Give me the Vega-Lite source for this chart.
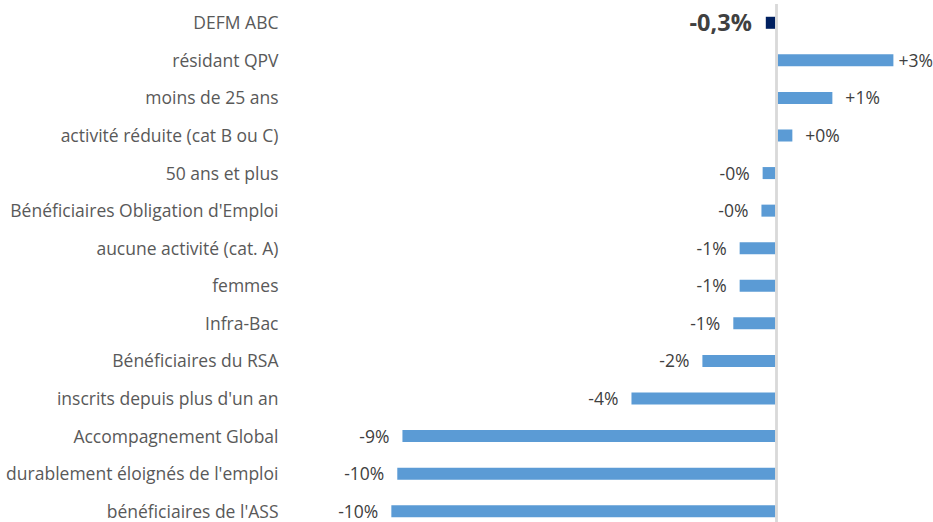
{
  "$schema": "https://vega.github.io/schema/vega-lite/v6.json",
  "autosize": {"type": "none"},
  "padding": {"left": 301, "top": 4, "right": 0, "bottom": 0},
  "width": 634,
  "height": 526,
  "background": "white",
  "config": {
    "view": {"stroke": null},
    "font": "Open Sans",
    "text": {"font": "Open Sans"}
  },
  "data": {
    "values": [
      {"categorie": "DEFM ABC", "evolution": -0.27, "label": "-0,3%"},
      {"categorie": "résidant QPV", "evolution": 2.95, "label": "+3%"},
      {"categorie": "moins de 25 ans", "evolution": 1.41, "label": "+1%"},
      {"categorie": "activité réduite (cat B ou C)", "evolution": 0.4, "label": "+0%"},
      {"categorie": "50 ans et plus", "evolution": -0.35, "label": "-0%"},
      {"categorie": "Bénéficiaires Obligation d'Emploi", "evolution": -0.38, "label": "-0%"},
      {"categorie": "aucune activité (cat. A)", "evolution": -0.93, "label": "-1%"},
      {"categorie": "femmes", "evolution": -0.93, "label": "-1%"},
      {"categorie": "Infra-Bac", "evolution": -1.09, "label": "-1%"},
      {"categorie": "Bénéficiaires du RSA", "evolution": -1.87, "label": "-2%"},
      {"categorie": "inscrits depuis plus d'un an", "evolution": -3.66, "label": "-4%"},
      {"categorie": "Accompagnement Global", "evolution": -9.44, "label": "-9%"},
      {"categorie": "durablement éloignés de l'emploi", "evolution": -9.57, "label": "-10%"},
      {"categorie": "bénéficiaires de l'ASS", "evolution": -9.72, "label": "-10%"}
    ]
  },
  "encoding": {
    "y": {
      "field": "categorie",
      "type": "nominal",
      "sort": null,
      "scale": {"paddingInner": 0.68, "paddingOuter": 0.34},
      "axis": {
        "title": null,
        "ticks": false,
        "domain": false,
        "labelPadding": 23,
        "labelOffset": 1.5,
        "labelFont": "Open Sans",
        "labelFontSize": 17.5,
        "labelColor": "#595959",
        "labelLimit": 400
      }
    }
  },
  "layer": [
    {
      "mark": {"type": "bar"},
      "encoding": {
        "x": {
          "field": "evolution",
          "type": "quantitative",
          "scale": {"domain": [-12, 4], "nice": false, "zero": false},
          "axis": null
        },
        "color": {
          "condition": {"test": "datum.categorie === 'DEFM ABC'", "value": "#002060"},
          "value": "#5B9BD5"
        }
      }
    },
    {
      "mark": {"type": "rule", "color": "#D9D9D9", "strokeWidth": 1.5},
      "encoding": {"x": {"datum": 0, "type": "quantitative"}, "y": null}
    },
    {
      "transform": [{"filter": "datum.evolution > 0 && datum.evolution < 2.5"}],
      "mark": {"type": "text", "align": "left", "baseline": "middle", "dx": 13, "dy": 1.5, "fontSize": 17.5, "color": "#404040"},
      "encoding": {"x": {"field": "evolution", "type": "quantitative"}, "text": {"field": "label"}}
    },
    {
      "transform": [{"filter": "datum.evolution >= 2.5"}],
      "mark": {"type": "text", "align": "left", "baseline": "middle", "dx": 5, "dy": 1.5, "fontSize": 17.5, "color": "#404040"},
      "encoding": {"x": {"field": "evolution", "type": "quantitative"}, "text": {"field": "label"}}
    },
    {
      "transform": [{"filter": "datum.evolution < 0 && datum.categorie !== 'DEFM ABC'"}],
      "mark": {"type": "text", "align": "right", "baseline": "middle", "dx": -13, "dy": 1.5, "fontSize": 17.5, "color": "#404040"},
      "encoding": {"x": {"field": "evolution", "type": "quantitative"}, "text": {"field": "label"}}
    },
    {
      "transform": [{"filter": "datum.categorie === 'DEFM ABC'"}],
      "mark": {"type": "text", "align": "right", "baseline": "middle", "dx": -14, "dy": 1, "fontSize": 23.5, "fontWeight": "bold", "color": "#404040"},
      "encoding": {"x": {"field": "evolution", "type": "quantitative"}, "text": {"field": "label"}}
    }
  ]
}
